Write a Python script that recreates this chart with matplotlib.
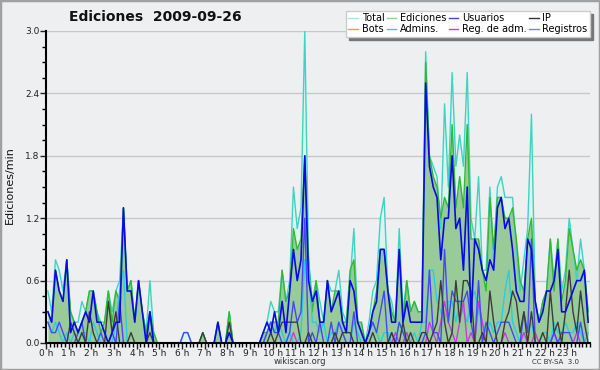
import numpy as np
import matplotlib
matplotlib.use("Agg")
import matplotlib.pyplot as plt
from matplotlib.patches import Rectangle
from matplotlib.ticker import MultipleLocator, FixedLocator

# values per 10 minutes (edits/min), 24 rows of 6
total = [
    0.5, 0.3, 0.8, 0.7, 0.5, 0.8,
    0.3, 0.2, 0.2, 0.4, 0.3, 0.5,
    0.5, 0.3, 0.2, 0.2, 0.5, 0.3,
    0.5, 0.6, 1.3, 0.5, 0.6, 0.2,
    0.6, 0.3, 0.1, 0.6, 0.1, 0.0,
    0.0, 0.0, 0.0, 0.0, 0.0, 0.0,
    0.1, 0.1, 0.0, 0.0, 0.0, 0.1,
    0.0, 0.0, 0.0, 0.2, 0.0, 0.0,
    0.3, 0.0, 0.0, 0.0, 0.0, 0.0,
    0.0, 0.0, 0.0, 0.1, 0.2, 0.4,
    0.3, 0.3, 0.7, 0.4, 0.6, 1.5,
    1.1, 1.3, 3.0, 0.8, 0.4, 0.6,
    0.4, 0.2, 0.6, 0.5, 0.5, 0.7,
    0.3, 0.2, 0.6, 1.1, 0.2, 0.1,
    0.0, 0.2, 0.5, 0.6, 1.2, 1.4,
    0.5, 0.4, 0.2, 1.1, 0.3, 0.6,
    0.3, 0.4, 0.3, 0.3, 2.8, 1.8,
    1.7, 1.6, 1.1, 2.3, 1.5, 2.6,
    1.7, 2.0, 1.7, 2.6, 1.2, 1.0,
    1.6, 0.7, 0.7, 1.5, 0.8, 1.5,
    1.6, 1.4, 1.4, 1.4, 0.9, 0.5,
    0.8, 1.1, 2.2, 0.4, 0.2, 0.4,
    0.5, 1.0, 0.6, 1.0, 0.5, 0.7,
    1.2, 0.9, 0.6, 1.0, 0.7, 0.3,
]
ediciones = [
    0.3, 0.2, 0.7, 0.5, 0.4, 0.8,
    0.3, 0.2, 0.1, 0.2, 0.3, 0.5,
    0.5, 0.3, 0.1, 0.2, 0.5, 0.2,
    0.5, 0.4, 1.3, 0.5, 0.6, 0.2,
    0.6, 0.3, 0.1, 0.3, 0.1, 0.0,
    0.0, 0.0, 0.0, 0.0, 0.0, 0.0,
    0.0, 0.0, 0.0, 0.0, 0.0, 0.1,
    0.0, 0.0, 0.0, 0.2, 0.0, 0.0,
    0.3, 0.0, 0.0, 0.0, 0.0, 0.0,
    0.0, 0.0, 0.0, 0.1, 0.1, 0.2,
    0.2, 0.2, 0.7, 0.4, 0.5, 1.1,
    0.9, 1.0, 1.8, 0.8, 0.3, 0.6,
    0.2, 0.2, 0.6, 0.3, 0.5, 0.5,
    0.2, 0.2, 0.7, 0.8, 0.2, 0.2,
    0.0, 0.1, 0.3, 0.5, 0.9, 0.9,
    0.5, 0.3, 0.2, 0.9, 0.2, 0.6,
    0.3, 0.4, 0.3, 0.3, 2.7, 1.8,
    1.6, 1.5, 1.2, 1.4, 1.3, 2.1,
    1.3, 1.6, 1.3, 2.1, 1.0, 1.0,
    1.0, 0.7, 0.5, 1.4, 0.9, 1.4,
    1.4, 1.2, 1.2, 1.3, 1.0, 0.6,
    0.5, 1.0, 1.2, 0.4, 0.2, 0.4,
    0.5, 1.0, 0.5, 1.0, 0.4, 0.6,
    1.1, 0.9, 0.7, 0.8, 0.7, 0.3,
]
usuarios = [
    0.3, 0.2, 0.7, 0.5, 0.4, 0.8,
    0.1, 0.2, 0.1, 0.2, 0.3, 0.2,
    0.5, 0.2, 0.2, 0.1, 0.0, 0.1,
    0.2, 0.2, 1.3, 0.5, 0.5, 0.2,
    0.6, 0.3, 0.0, 0.3, 0.0, 0.0,
    0.0, 0.0, 0.0, 0.0, 0.0, 0.0,
    0.0, 0.0, 0.0, 0.0, 0.0, 0.0,
    0.0, 0.0, 0.0, 0.2, 0.0, 0.0,
    0.1, 0.0, 0.0, 0.0, 0.0, 0.0,
    0.0, 0.0, 0.0, 0.1, 0.2, 0.1,
    0.3, 0.1, 0.4, 0.1, 0.5, 0.9,
    0.6, 0.8, 1.8, 0.6, 0.4, 0.5,
    0.2, 0.2, 0.6, 0.3, 0.4, 0.5,
    0.2, 0.1, 0.6, 0.5, 0.2, 0.1,
    0.0, 0.1, 0.3, 0.4, 0.9, 0.9,
    0.5, 0.2, 0.2, 0.9, 0.2, 0.4,
    0.2, 0.2, 0.2, 0.2, 2.5, 1.7,
    1.5, 1.4, 0.8, 1.2, 1.2, 1.8,
    1.1, 1.2, 0.7, 1.5, 0.2, 1.0,
    0.9, 0.7, 0.6, 0.8, 0.7, 1.3,
    1.4, 1.1, 1.2, 0.9, 0.5, 0.4,
    0.4, 1.0, 0.9, 0.4, 0.2, 0.3,
    0.5, 0.5, 0.6, 0.9, 0.3, 0.3,
    0.4, 0.5, 0.6, 0.6, 0.7, 0.2,
]
ip = [
    0.0, 0.0, 0.0, 0.0, 0.0, 0.0,
    0.2, 0.1, 0.0, 0.1, 0.0, 0.3,
    0.1, 0.0, 0.0, 0.0, 0.4, 0.1,
    0.3, 0.0, 0.0, 0.0, 0.1, 0.0,
    0.0, 0.0, 0.0, 0.1, 0.0, 0.0,
    0.0, 0.0, 0.0, 0.0, 0.0, 0.0,
    0.0, 0.0, 0.0, 0.0, 0.0, 0.1,
    0.0, 0.0, 0.0, 0.0, 0.0, 0.0,
    0.2, 0.0, 0.0, 0.0, 0.0, 0.0,
    0.0, 0.0, 0.0, 0.0, 0.0, 0.1,
    0.0, 0.1, 0.2, 0.2, 0.2, 0.2,
    0.2, 0.0, 0.0, 0.1, 0.0, 0.0,
    0.0, 0.0, 0.0, 0.0, 0.1, 0.0,
    0.1, 0.1, 0.1, 0.0, 0.0, 0.0,
    0.0, 0.0, 0.1, 0.0, 0.0, 0.0,
    0.0, 0.1, 0.0, 0.0, 0.2, 0.0,
    0.1, 0.0, 0.0, 0.1, 0.1, 0.0,
    0.1, 0.2, 0.6, 0.2, 0.0, 0.1,
    0.6, 0.2, 0.6, 0.6, 0.5, 0.0,
    0.0, 0.1, 0.0, 0.5, 0.2, 0.0,
    0.0, 0.2, 0.3, 0.5, 0.4, 0.1,
    0.3, 0.0, 0.3, 0.0, 0.0, 0.1,
    0.0, 0.5, 0.1, 0.2, 0.0, 0.3,
    0.7, 0.3, 0.1, 0.5, 0.2, 0.0,
]
bots = [0.0] * 144
admins = [
    0.2, 0.1, 0.2, 0.1, 0.0, 0.1,
    0.0, 0.1, 0.0, 0.1, 0.1, 0.0,
    0.2, 0.1, 0.0, 0.0, 0.0, 0.0,
    0.2, 0.5, 0.7, 0.0, 0.0, 0.0,
    0.0, 0.0, 0.0, 0.0, 0.0, 0.0,
    0.0, 0.0, 0.0, 0.0, 0.0, 0.0,
    0.0, 0.0, 0.0, 0.0, 0.0, 0.0,
    0.0, 0.0, 0.0, 0.0, 0.0, 0.0,
    0.0, 0.0, 0.0, 0.0, 0.0, 0.0,
    0.0, 0.0, 0.0, 0.0, 0.1, 0.2,
    0.1, 0.2, 0.1, 0.0, 0.1, 0.0,
    0.0, 0.1, 0.8, 0.8, 0.2, 0.2,
    0.1, 0.2, 0.0, 0.1, 0.1, 0.2,
    0.1, 0.0, 0.0, 0.2, 0.1, 0.0,
    0.0, 0.1, 0.2, 0.1, 0.0, 0.1,
    0.1, 0.0, 0.0, 0.2, 0.1, 0.1,
    0.0, 0.1, 0.0, 0.2, 0.2, 0.7,
    0.7, 0.4, 0.3, 0.2, 0.4, 0.4,
    0.2, 0.4, 0.3, 0.2, 0.4, 0.5,
    0.3, 0.2, 0.1, 0.2, 0.1, 0.2,
    0.2, 0.5, 0.7, 0.2, 0.1, 0.0,
    0.1, 0.1, 0.2, 0.0, 0.0, 0.1,
    0.1, 0.0, 0.2, 0.1, 0.1, 0.2,
    0.1, 0.1, 0.2, 0.1, 0.0, 0.1,
]
reg_adm = [0.0] * 64 + [
    0.0, 0.1, 0.0, 0.0, 0.0, 0.0,
    0.0, 0.0, 0.0, 0.0, 0.0, 0.0,
    0.0, 0.0, 0.0, 0.0, 0.0, 0.0,
    0.0, 0.0, 0.0, 0.0, 0.0, 0.0,
    0.0, 0.0, 0.0, 0.0, 0.1, 0.0,
    0.0, 0.1, 0.0, 0.0, 0.0, 0.0,
    0.0, 0.2, 0.1, 0.0, 0.2, 0.4,
    0.2, 0.1, 0.0, 0.2, 0.4, 0.0,
    0.1, 0.0, 0.4, 0.2, 0.0, 0.0,
    0.0, 0.0, 0.0, 0.1, 0.0, 0.0,
    0.0, 0.0, 0.1, 0.0, 0.0, 0.1,
    0.0, 0.0, 0.0, 0.0, 0.1, 0.0,
    0.0, 0.0, 0.0, 0.0, 0.1, 0.0,
    0.0, 0.0,
]
registros = [
    0.2, 0.1, 0.1, 0.2, 0.1, 0.0,
    0.0, 0.0, 0.1, 0.2, 0.0, 0.0,
    0.0, 0.0, 0.1, 0.0, 0.0, 0.1,
    0.0, 0.4, 0.0, 0.0, 0.0, 0.0,
    0.0, 0.0, 0.0, 0.3, 0.0, 0.0,
    0.0, 0.0, 0.0, 0.0, 0.0, 0.0,
    0.1, 0.1, 0.0, 0.0, 0.0, 0.0,
    0.0, 0.0, 0.0, 0.0, 0.0, 0.0,
    0.0, 0.0, 0.0, 0.0, 0.0, 0.0,
    0.0, 0.0, 0.0, 0.0, 0.1, 0.2,
    0.1, 0.1, 0.0, 0.0, 0.1, 0.4,
    0.2, 0.3, 1.2, 0.0, 0.1, 0.0,
    0.2, 0.0, 0.0, 0.2, 0.0, 0.2,
    0.1, 0.0, 0.0, 0.3, 0.0, 0.0,
    0.0, 0.1, 0.2, 0.1, 0.3, 0.5,
    0.0, 0.1, 0.0, 0.2, 0.1, 0.0,
    0.0, 0.0, 0.0, 0.0, 0.1, 0.7,
    0.1, 0.1, 0.0, 0.9, 0.2, 0.5,
    0.4, 0.4, 0.4, 0.5, 0.2, 0.0,
    0.6, 0.0, 0.2, 0.1, 0.0, 0.1,
    0.2, 0.2, 0.2, 0.1, 0.0, 0.0,
    0.3, 0.1, 1.0, 0.0, 0.0, 0.0,
    0.0, 0.0, 0.1, 0.0, 0.1, 0.1,
    0.1, 0.0, 0.0, 0.2, 0.0, 0.0,
]

hour_labels = [f"{h} h" for h in range(24)]
x = (np.arange(144) + 0.5) / 6.0

bg = "#eeeff0"
fig = plt.figure(figsize=(6, 3.7), dpi=100, facecolor=bg)
ax = fig.add_axes([46 / 600, 1 - 343 / 370, 544 / 600, 312 / 370])
ax.set_facecolor(bg)

ax.fill_between(x, total, color="#dcf3ee", lw=0, zorder=1)
ax.fill_between(x, ediciones, color="#98cb98", lw=0, zorder=2)
ax.plot(x, total, color="#3fd3c3", lw=1.0, zorder=3)
ax.plot(x, ediciones, color="#33b833", lw=1.0, zorder=3)
ax.plot(x, bots, color="#ff9a2e", lw=1.0, zorder=3)
ax.plot(x, admins, color="#2ccbe0", lw=1.0, zorder=4)
ax.plot(x, reg_adm, color="#c83cdc", lw=1.0, zorder=4)
ax.plot(x, registros, color="#4646ff", lw=1.0, zorder=4)
ax.plot(x, ip, color="#3c3c3c", lw=1.0, zorder=5)
ax.plot(x, usuarios, color="#0a0ae6", lw=1.2, zorder=6)

ax.set_xlim(0, 24)
ax.set_ylim(0, 3.0)
ax.yaxis.set_major_locator(MultipleLocator(0.6))
ax.yaxis.set_minor_locator(MultipleLocator(0.15))
ax.set_yticklabels([f"{v:.1f}" for v in ax.get_yticks()])
ax.xaxis.set_major_locator(FixedLocator(range(24)))
ax.xaxis.set_minor_locator(MultipleLocator(1 / 6))
ax.set_xticklabels(hour_labels)
ax.tick_params(axis="both", which="major", labelsize=6.5, length=4, width=1, pad=0.5, colors="#222222")
ax.tick_params(axis="both", which="minor", length=3, width=1)
ax.grid(axis="y", which="major", color="#c8c8c8", lw=1, zorder=0)
ax.set_axisbelow(True)
for s in ["top", "right"]:
    ax.spines[s].set_visible(False)
for s in ["left", "bottom"]:
    ax.spines[s].set_linewidth(1.5)
    ax.spines[s].set_zorder(10)

fig.text(155 / 600, 1 - 17 / 370, "Ediciones  2009-09-26", fontsize=10, fontweight="bold",
         ha="center", va="center", color="#111111")
fig.text(10 / 600, 1 - 185 / 370, "Ediciones/min", fontsize=8, rotation=90,
         ha="center", va="center", color="#111111")
fig.text(300 / 600, 1 - 362 / 370, "wikiscan.org", fontsize=6, ha="center", va="center", color="#333333")
fig.text(556 / 600, 1 - 362 / 370, "CC BY-SA  3.0", fontsize=5, ha="center", va="center", color="#333333")

legend_names = ["Total", "Bots", "Ediciones", "Admins.", "Usuarios", "Reg. de adm.", "IP", "Registros"]
legend_colors = ["#a8e8e0", "#ff9a2e", "#88d488", "#2ccbe0", "#4646dd", "#c83cdc", "#333333", "#8080ee"]
handles = [plt.Line2D([], [], color=c, lw=1) for c in legend_colors]
fig.legend(handles, legend_names, ncol=4, loc="upper right", bbox_to_anchor=(590 / 600, 1 - 11 / 370),
           fontsize=7, frameon=True, fancybox=False, edgecolor="#cccccc", facecolor="white",
           framealpha=1, shadow={"color": "#777777", "alpha": 1}, handlelength=1.0, handletextpad=0.4,
           columnspacing=0.2, labelspacing=0.1, borderpad=0.25, borderaxespad=0)

fig.patches.append(Rectangle((0, 0), 1, 1, transform=fig.transFigure, fill=False,
                             edgecolor="#a0a0a0", lw=2.5))

fig.savefig("out.png", dpi=100, facecolor=bg)
